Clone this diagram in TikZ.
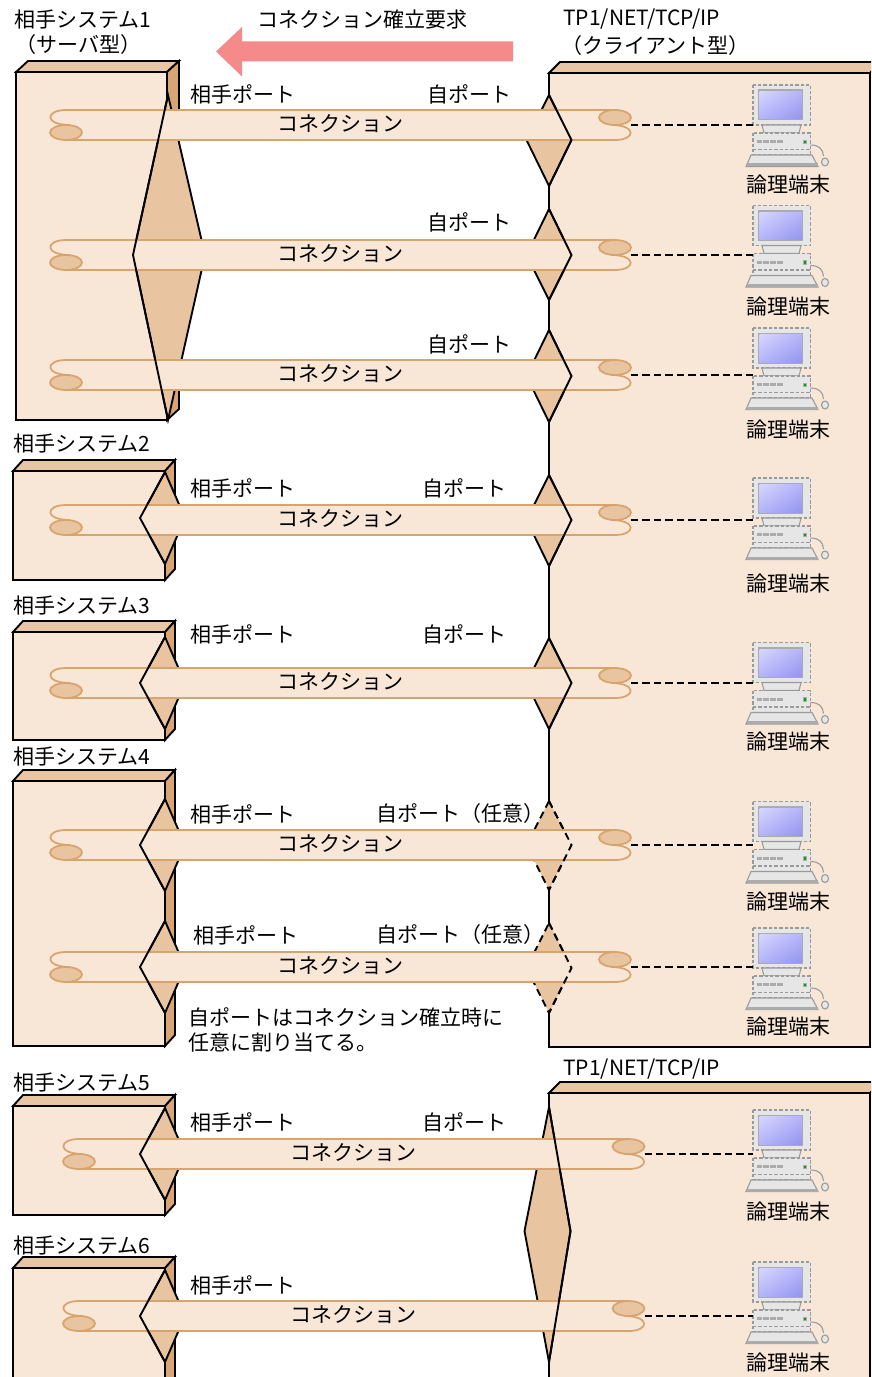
\documentclass[tikz,border=0pt]{standalone}
\usepackage{fontspec}
\setmainfont{Noto Sans CJK JP}
\usetikzlibrary{shadings}

\definecolor{face}{HTML}{F8E6D6}
\definecolor{topface}{HTML}{E8C6A4}
\definecolor{sideface}{HTML}{D8A676}
\definecolor{portfill}{HTML}{E8C4A0}
\definecolor{pipeedge}{HTML}{D8A46E}
\definecolor{reqarrow}{HTML}{F48A8A}
\definecolor{pcgray}{HTML}{E6E6E6}
\definecolor{pcedge}{HTML}{9A9A9A}
\definecolor{pcdark}{HTML}{ABABAB}
\definecolor{scrlight}{HTML}{D6D6FF}
\definecolor{scrmid}{HTML}{B4B4FA}
\definecolor{scrdark}{HTML}{9494EE}

\newcommand\lblfont{\fontsize{15.75pt}{18pt}\selectfont}

% cuboid seen from the front: x1 y1 x2 y2 (front face), depth dx dy
\newcommand\drawsysbox[6]{%
  \filldraw[boxline, fill=topface] (#1,#2) -- (#1+#5,#2-#6) -- (#3+#5,#2-#6) -- (#3,#2) -- cycle;
  \filldraw[boxline, fill=sideface] (#3,#2) -- (#3+#5,#2-#6) -- (#3+#5,#4-#6) -- (#3,#4) -- cycle;
  \filldraw[boxline, fill=face] (#1,#2) rectangle (#3,#4);}

% port diamond: [style] cx top mid bottom left-dx right-dx
\newcommand\drawport[7][]{%
  \filldraw[boxline, fill=portfill, #1] (#2,#3) -- (#2+#7,#4) -- (#2,#5) -- (#2-#6,#4) -- cycle;}
\newcommand\frontleft[6][]{\draw[boxline, #1] (#2,#3) -- (#2-#6,#4) -- (#2,#5);}
\newcommand\frontright[6][]{\draw[boxline, #1] (#2,#3) -- (#2+#6,#4) -- (#2,#5);}

% connection pipe: name, left end x, right end x, centre y
\newcommand\drawpipe[4]{%
  \fill[face] (#2,#4-15) rectangle (#3,#4+15);
  \draw[pipeline] (#3,#4-15) -- (#2,#4-15) .. controls (#2-21,#4-15) and (#2-22,#4) .. (#2+4,#4);
  \filldraw[pipeline, fill=portfill] (#2,#4+7.5) ellipse [x radius=16, y radius=7.5];
  \draw[pipeline] (#2,#4+15) -- (#3,#4+15) .. controls (#3+21,#4+15) and (#3+22,#4) .. (#3-4,#4);
  \filldraw[pipeline, fill=portfill] (#3,#4-7.5) ellipse [x radius=16, y radius=7.5];
  \coordinate (#1) at (#3+16,#4);}

% terminal icon: name, top of monitor, label y
\newcommand\drawterminal[3]{%
  \begin{scope}[shift={(753,#2)}]
    % monitor
    \filldraw[pcline, fill=pcgray] (0,0) rectangle (57.5,40);
    \fill[pcdark] (4.5,4.5) rectangle (50,35.5);
    \shade[upper left=scrlight, upper right=scrmid, lower left=scrmid, lower right=scrdark]
      (6.5,6.5) rectangle (49,34);
    % stand
    \filldraw[pcsolid, fill=pcgray] (9,40) -- (48,40) -- (46,48) -- (11,48) -- cycle;
    % system unit
    \filldraw[pcline, fill=pcgray] (0,48) rectangle (57.5,70);
    \draw[pcdark, line width=2.2pt, dash pattern=on 4pt off 1.2pt] (3.5,56.7) -- (31,56.7);
    \filldraw[pcdark, fill=green!65!black, line width=0.4pt] (50,55) rectangle (53.5,58.5);
    \draw[pcline] (0,64.5) -- (57.5,64.5);
    % keyboard
    \filldraw[pcsolid, fill=pcgray] (-2,70) -- (59,70) -- (65,81.5) -- (-7,81.5) -- cycle;
    \fill[pcdark] (-6.5,78.5) rectangle (64.5,81.5);
    % mouse and cable
    \draw[pcsolid] (57.5,60) .. controls (66,60) and (70,64) .. (70.5,71);
    \draw[pcsolid, fill=pcgray] (72,77) ellipse [x radius=3.5, y radius=4];
  \end{scope}
  \coordinate (#1) at (753,#2);
  \node[txt] (#1-label) at (788,#3) {論理端末};}

\begin{document}
\begin{tikzpicture}[x=0.75pt, y=-0.75pt,
  boxline/.style={draw=black, line width=1.4pt, line join=miter},
  dashport/.style={dash pattern=on 5.5pt off 3.5pt},
  pipeline/.style={draw=pipeedge, line width=1.3pt},
  pcline/.style={draw=pcedge, line width=0.8pt, dash pattern=on 2.6pt off 1.4pt},
  pcsolid/.style={draw=pcedge, line width=0.8pt},
  link/.style={draw=black, line width=1.2pt, dash pattern=on 5.6pt off 3pt},
  txt/.style={inner sep=0pt, font=\lblfont},
  lbl/.style={txt, anchor=west}]

\useasboundingbox (0,0) rectangle (871,1377);
\clip (0,0) rectangle (871,1377);
\fill[white] (0,0) rectangle (871,1377);

% ---- client side (TP1/NET/TCP/IP) ----
\filldraw[boxline, fill=topface] (549,73) -- (560,62) -- (881,62) -- (870,73) -- cycle;
\filldraw[boxline, fill=face] (549,73) rectangle (870,1047);
\filldraw[boxline, fill=topface] (549,1093) -- (560,1082) -- (881,1082) -- (870,1093) -- cycle;
\filldraw[boxline, fill=face] (549,1093) rectangle (870,1400);

% ---- partner systems ----
\drawsysbox{16}{72}{167}{420}{12}{11}
\drawsysbox{13}{471}{165}{580}{10}{11}
\drawsysbox{13}{632}{165}{740}{10}{11}
\drawsysbox{13}{781}{165}{1046}{10}{11}
\drawsysbox{13}{1106}{165}{1215}{10}{11}
\drawsysbox{13}{1268}{165}{1400}{10}{11}

% ---- ports (behind the pipes) ----
\drawport{168}{95}{255}{420}{35}{37}
\drawport{165}{472}{518}{564}{25}{20}
\drawport{165}{637}{683}{729}{25}{20}
\drawport{165}{799}{845}{891}{25}{20}
\drawport{165}{921}{967}{1013}{25}{20}
\drawport{165}{1108}{1154}{1200}{25}{20}
\drawport{165}{1270}{1316}{1362}{25}{20}

\drawport{549}{95}{140}{186}{22.5}{22.5}
\drawport{549}{209}{255}{300}{22.5}{22.5}
\drawport{549}{330}{376}{422}{22.5}{22.5}
\drawport{549}{475}{520}{566}{22.5}{22.5}
\drawport{549}{638}{683}{729}{22.5}{22.5}
\drawport[dashport]{549}{801}{845}{890}{22.5}{22.5}
\drawport[dashport]{549}{923}{968}{1013}{22.5}{22.5}
\drawport{549}{1107}{1231}{1362}{24.5}{21.5}

% ---- connections ----
\drawpipe{e1}{66}{615}{125}
\drawpipe{e2}{66}{615}{255}
\drawpipe{e3}{66}{615}{375}
\drawpipe{e4}{66}{615}{520}
\drawpipe{e5}{66}{615}{683}
\drawpipe{e6}{66}{615}{845}
\drawpipe{e7}{66}{615}{967}
\drawpipe{e8}{79}{628.5}{1154}
\drawpipe{e9}{79}{628.5}{1316}

% ---- port edges in front of the pipes ----
\frontleft{168}{95}{255}{420}{35}
\frontleft{165}{472}{518}{564}{25}
\frontleft{165}{637}{683}{729}{25}
\frontleft{165}{799}{845}{891}{25}
\frontleft{165}{921}{967}{1013}{25}
\frontleft{165}{1108}{1154}{1200}{25}
\frontleft{165}{1270}{1316}{1362}{25}

\frontright{549}{95}{140}{186}{22.5}
\frontright{549}{209}{255}{300}{22.5}
\frontright{549}{330}{376}{422}{22.5}
\frontright{549}{475}{520}{566}{22.5}
\frontright{549}{638}{683}{729}{22.5}
\frontright[dashport]{549}{801}{845}{890}{22.5}
\frontright[dashport]{549}{923}{968}{1013}{22.5}
\frontright{549}{1107}{1231}{1362}{21.5}

% ---- logical terminals ----
\drawterminal{t1}{85}{185}
\drawterminal{t2}{205.5}{306.5}
\drawterminal{t3}{328}{429.5}
\drawterminal{t4}{478}{584}
\drawterminal{t5}{642.5}{741.5}
\drawterminal{t6}{801.5}{901.5}
\drawterminal{t7}{928}{1026.5}
\drawterminal{t8}{1110}{1211.5}
\drawterminal{t9}{1262}{1363}

\foreach \k in {1,...,9} { \draw[link] (e\k) -- (e\k -| t\k); }

% ---- connection labels ----
\foreach \k/\y in {1/125,2/255,3/375,4/520,5/683,6/845,7/967}
  { \node[txt] (c\k) at (340,\y-1) {コネクション}; }
\node[txt] (c8) at (353,1153) {コネクション};
\node[txt] (c9) at (353,1315) {コネクション};

\node[lbl] (rp1) at (190,94) {相手ポート};
\node[lbl] (rp4) at (190,488) {相手ポート};
\node[lbl] (rp5) at (190,634) {相手ポート};
\node[lbl] (rp6) at (190,814) {相手ポート};
\node[lbl] (rp7) at (193,935) {相手ポート};
\node[lbl] (rp8) at (190,1122) {相手ポート};
\node[lbl] (rp9) at (190,1285) {相手ポート};

\node[lbl] (op1) at (427,94) {自ポート};
\node[lbl] (op2) at (427,222) {自ポート};
\node[lbl] (op3) at (427,344) {自ポート};
\node[lbl] (op4) at (422,488) {自ポート};
\node[lbl] (op5) at (422,634) {自ポート};
\node[lbl] (op6) at (376,814) {自ポート（任意）};
\node[lbl] (op7) at (376,935) {自ポート（任意）};
\node[lbl] (op8) at (422,1122) {自ポート};

\node[lbl] (note1) at (188,1017) {自ポートはコネクション確立時に};
\node[lbl] (note2) at (188,1043) {任意に割り当てる。};

% ---- system names ----
\node[lbl] (s1) at (14,20) {相手システム1};
\node[lbl] (s1b) at (15,45) {（サーバ型）};
\node[lbl] (s2) at (13,444) {相手システム2};
\node[lbl] (s3) at (13,606) {相手システム3};
\node[lbl] (s4) at (13,757) {相手システム4};
\node[lbl] (s5) at (13,1082) {相手システム5};
\node[lbl] (s6) at (13,1245) {相手システム6};

\node[lbl] (cl1) at (563,19) {TP1/NET/TCP/IP};
\node[lbl] (cl1b) at (561,46) {（クライアント型）};
\node[lbl] (cl2) at (563,1069) {TP1/NET/TCP/IP};

% ---- connection request arrow ----
\fill[reqarrow] (513,41.5) -- (242,41.5) -- (242,27) -- (216,51.5) -- (242,76.5) -- (242,61.5) -- (513,61.5) -- cycle;
\node[lbl] (req) at (257,20) {コネクション確立要求};

\end{tikzpicture}
\end{document}
